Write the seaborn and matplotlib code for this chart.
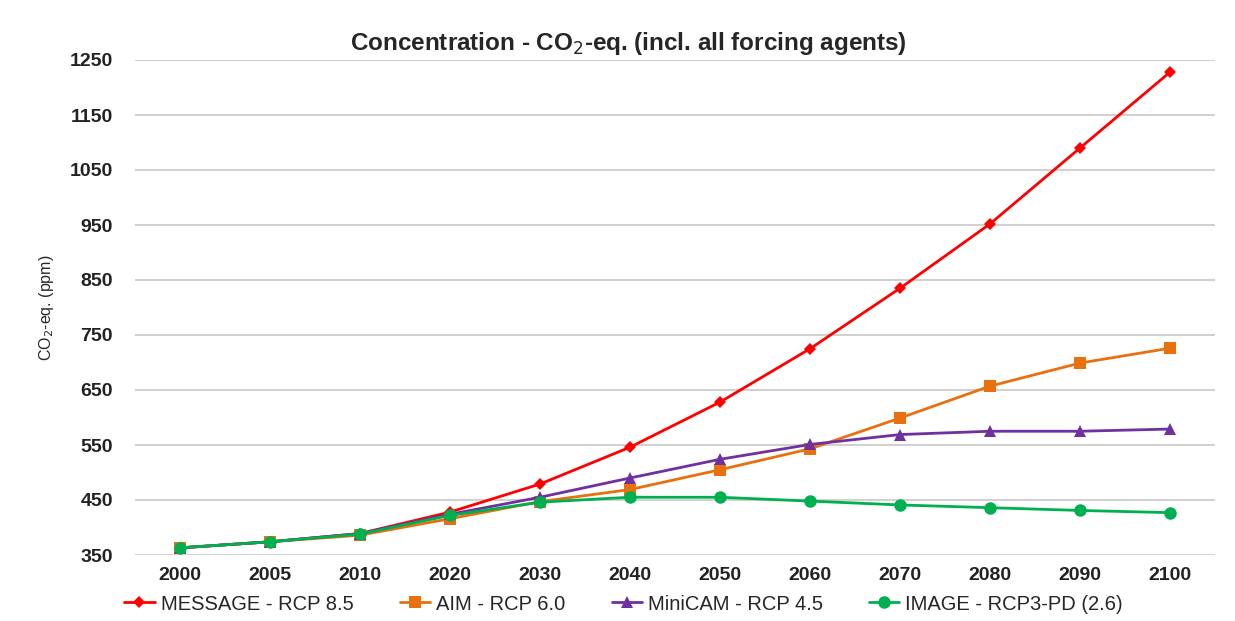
import numpy as np
import pandas as pd
import matplotlib
matplotlib.use('Agg')
import matplotlib.pyplot as plt
import seaborn as sns

# ── Data ──────────────────────────────────────────────────────
YEARS = ["2000", "2005", "2010", "2020", "2030", "2040",
         "2050", "2060", "2070", "2080", "2090", "2100"]

MESSAGE = [363, 374, 389, 428, 479, 546, 628, 725, 835, 952, 1090, 1228]
AIM     = [363, 374, 386, 416, 447, 469, 505, 543, 599, 657, 699, 726]
MINICAM = [363, 374, 389, 424, 455, 490, 524, 551, 569, 575, 575, 579]
IMAGE   = [363, 374, 388, 422, 446, 455, 455, 448, 441, 436, 431, 427]

SERIES = {
    "MESSAGE - RCP 8.5":     MESSAGE,
    "AIM - RCP 6.0":         AIM,
    "MiniCAM - RCP 4.5":     MINICAM,
    "IMAGE - RCP3-PD (2.6)": IMAGE,
}
COLORS  = ["#ff0000", "#e8700e", "#7030a0", "#00b050"]
MARKERS = ["D", "s", "^", "o"]
SIZES   = [6, 9, 9, 9]

Y_TICKS = list(range(350, 1251, 100))

# ── Build long table ──────────────────────────────────────────
rows = []
for name, vals in SERIES.items():
    for i, v in enumerate(vals):
        rows.append({"pos": i, "year": YEARS[i], "value": v, "model": name})
df = pd.DataFrame(rows)

sns.set_theme(style="white")
plt.rcParams['font.family'] = ['Liberation Sans', 'DejaVu Sans']

fig = plt.figure(figsize=(12.35, 6.21), dpi=100)
ax = fig.add_axes([135 / 1235, 1 - 555 / 621, 1080 / 1235, 495 / 621])

for (name, _), color, marker, ms in zip(SERIES.items(), COLORS, MARKERS, SIZES):
    sub = df[df["model"] == name]
    sns.lineplot(data=sub, x="pos", y="value", ax=ax, color=color,
                 marker=marker, markersize=ms, markeredgewidth=0,
                 linewidth=2, label=name)

ax.set_xlim(-0.5, len(YEARS) - 0.5)
ax.set_ylim(350, 1250)
ax.set_xticks(range(len(YEARS)))
ax.set_xticklabels(YEARS, fontsize=14, fontweight='bold')
ax.set_yticks(Y_TICKS)
ax.set_yticklabels([str(t) for t in Y_TICKS], fontsize=14, fontweight='bold')
ax.tick_params(axis='x', length=0, pad=9, colors='#222222')
ax.tick_params(axis='y', length=0, pad=16, colors='#222222')
ax.yaxis.grid(True, color='#c8c8c8', linewidth=1.2)
ax.set_axisbelow(True)
for s in ax.spines.values():
    s.set_visible(False)

ax.set_xlabel("")
ax.set_ylabel("CO$_2$-eq. (ppm)", fontsize=11.5, labelpad=10)

fig.suptitle("Concentration - CO$_2$-eq. (incl. all forcing agents)",
             x=0.509, y=0.952, fontsize=17.5, fontweight='bold')

h, l = ax.get_legend_handles_labels()
ax.get_legend().remove()
fig.legend(h, l, loc='center', bbox_to_anchor=(0.505, 1 - 604 / 621), ncol=4,
           frameon=False, fontsize=14.5, handlelength=1.5, handletextpad=0.3,
           columnspacing=2.3)

fig.savefig("out.png", dpi=100, facecolor='white')
